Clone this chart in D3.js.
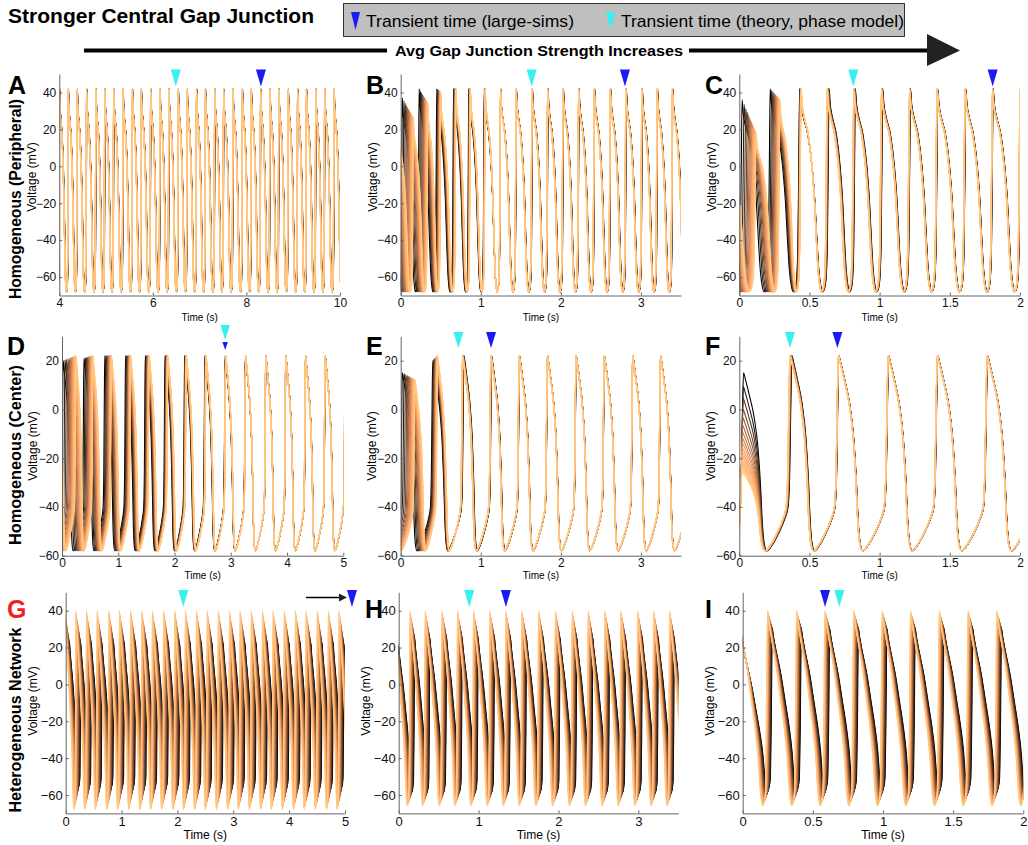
<!DOCTYPE html>
<html>
<head>
<meta charset="utf-8">
<script src="https://cdn.jsdelivr.net/npm/d3@7"></script>
<style>
  body { margin: 0; background: #fff; }
  svg { display: block; font-family: "Liberation Sans", Arial, Helvetica, sans-serif; }
</style>
</head>
<body>
<script>
// One cycle of each waveform, [phase from peak, mV]
const tplPeriph = [[0, 42], [0.04, 34], [0.12, 27], [0.28, 17], [0.42, 0], [0.52, -20], [0.58, -38], [0.65, -56],
  [0.72, -65], [0.78, -68], [0.85, -66], [0.9, -60], [0.94, -42], [0.97, 0], [1, 42]];
const tplCenter = [[0, 22], [0.04, 19], [0.12, 12], [0.22, 2], [0.3, -12], [0.35, -28], [0.39, -46], [0.43, -55],
  [0.48, -58], [0.58, -56], [0.72, -51], [0.85, -45], [0.92, -40], [0.955, -25], [0.98, 5], [1, 22]];
const tplHetero = [[0, 40], [0.04, 35], [0.15, 24], [0.3, 10], [0.45, -8], [0.58, -24], [0.68, -40], [0.74, -55],
  [0.79, -63], [0.84, -66], [0.89, -63], [0.93, -58], [0.965, -20], [1, 40]];

// cell rank: 0 = black, 1 = light orange
const ranksHomog = [0, 0.14, 0.26, 0.37, 0.46, 0.54, 0.61, 0.67, 0.72, 0.77, 0.81, 0.84, 0.87, 0.9, 0.92, 0.94,
  0.96, 0.98, 1];
const ranksHetero = [0, 0.07, 0.14, 0.21, 0.28, 0.36, 0.44, 0.52, 0.6, 0.68, 0.76, 0.84, 0.9, 0.95, 1];

// peak times of the light orange cell (s), offset of the black cell per cycle (s),
// peaks per cycle [black, orange] (mV), troughs [black, orange] (mV)
const spikesA = [3.80, 4.00, 4.19, 4.38, 4.58, 4.78, 4.97, 5.16, 5.36, 5.56, 5.75, 5.95, 6.15, 6.34, 6.54, 6.73, 6.93,
  7.12, 7.32, 7.51, 7.71, 7.91, 8.10, 8.30, 8.50, 8.69, 8.89, 9.09, 9.28, 9.48, 9.67, 9.87, 10.07];
const shiftA = [0.008];
const peaksA = [[42, 42]];
const troughsA = [-68, -68];

const spikesB = [-0.02, 0.16, 0.34, 0.50, 0.69, 0.87, 1.055, 1.245, 1.44, 1.638, 1.833, 2.025, 2.22, 2.415, 2.615,
  2.81, 3.01, 3.2, 3.39, 3.59];
const shiftB = [-0.15, -0.14, -0.11, -0.05, -0.03, -0.02, -0.012, 0.004, 0.006, 0.008];
const peaksB = [[30, 20], [37, 26], [42, 34], [42, 40], [42, 42]];
const troughsB = [-68, -68];

const spikesC = [-0.1, 0.12, 0.29, 0.44, 0.625, 0.815, 1.012, 1.212, 1.408, 1.608, 1.803, 2.0, 2.2];
const shiftC = [-0.1, -0.1, -0.07, -0.01, 0.015, 0.012, 0.01, 0.008, 0.006];
const peaksC = [[30, 22], [36, 18], [42, 36], [42, 42]];
const troughsC = [-68, -68];

const spikesD = [-0.1, 0.25, 0.55, 0.88, 1.22, 1.55, 1.88, 2.21, 2.56, 2.91, 3.265, 3.62, 3.975, 4.325, 4.675, 5.03];
const shiftD = [-0.25, -0.23, -0.16, -0.12, -0.09, -0.07, -0.05, -0.03, -0.02, -0.01, -0.006, 0.004];
const peaksD = [[20, 22], [20, 22], [21, 22], [22, 22]];
const troughsD = [-58, -58];

const spikesE = [-0.15, 0.18, 0.46, 0.77, 1.125, 1.478, 1.83, 2.188, 2.54, 2.895, 3.242, 3.6];
const shiftE = [-0.15, -0.16, -0.06, 0.02, 0.01, 0.006, 0.004];
const peaksE = [[15, 10], [15, 12], [20, 22], [22, 22]];
const troughsE = [-58, -58];

const spikesF = [-0.3, 0.02, 0.36, 0.705, 1.06, 1.41, 1.765, 2.12];
const shiftF = [-0.02, 0.01, 0.015, 0.004];
const peaksF = [[20, 10], [15, -25], [22, 22]];
const troughsF = [-58, -58];

const spikesG = [-0.02, 0.18, 0.37, 0.56, 0.77, 0.96, 1.16, 1.36, 1.55, 1.75, 1.95, 2.14, 2.34, 2.53, 2.73, 2.93,
  3.12, 3.32, 3.52, 3.71, 3.91, 4.11, 4.30, 4.50, 4.70, 4.89, 5.09];
const shiftG = [0.09];
const peaksG = [[22, 40]];
const troughsG = [-55, -68];

const spikesH = [-0.06, 0.14, 0.33, 0.54, 0.735, 0.935, 1.14, 1.34, 1.54, 1.75, 1.96, 2.17, 2.37, 2.58, 2.78, 2.99,
  3.19, 3.39, 3.6];
const shiftH = [0.06];
const peaksH = [[20, 34], [25, 40]];
const troughsH = [-58, -66];

const spikesI = [-0.03, 0.176, 0.383, 0.585, 0.79, 0.993, 1.195, 1.40, 1.605, 1.81, 2.015];
const shiftI = [0.035];
const peaksI = [[20, 38], [30, 40]];
const troughsI = [-58, -66];

// transient times, panels A..I
const theoryTimes = [6.49, 1.635, 0.812, 2.90, 0.72, 0.361, 2.106, 0.883, 0.689];
const simTimes = [8.31, 2.80, 1.805, 2.90, 1.128, 0.699, 5.125, 1.342, 0.587];

// ticks
const voltTicksWide = [-60, -40, -20, 0, 20, 40];
const voltTicksCenter = [-60, -40, -20, 0, 20];
const timeTicksA = [4, 6, 8, 10];
const timeTicks35 = [0, 1, 2, 3];
const timeTicks5 = [0, 1, 2, 3, 4, 5];
const timeTicks2 = [0, 0.5, 1, 1.5, 2];

const rowLabels = ['Homogeneous (Peripheral)', 'Homogeneous (Center)', 'Heterogeneous Network'];

const FONT = '"Liberation Sans", Arial, Helvetica, sans-serif';
const copper = d3.scaleLinear().domain([0, 0.8, 1]).range(['#000000', '#ffa066', '#ffc982']);

const rows = [
  { yr: [295.5, 74], yd: [-70, 50], yt: voltTicksWide, tick: 12, xPad: 3, timeY: 320.5, timeFont: 10, vY: 177, vOff: 28, tip: 86.5, th: 17, letterY: 94 },
  { yr: [555.7, 336.3], yd: [-60, 30], yt: voltTicksCenter, tick: 12, xPad: 3, timeY: 578.5, timeFont: 10, vY: 446, vOff: 29, tip: 348, th: 16, letterY: 355 },
  { yr: [813.4, 592.3], yd: [-70, 50], yt: voltTicksWide, tick: 13, xPad: 3, timeY: 838.5, timeFont: 12, vY: 701, vOff: 33, tip: 607, th: 17, letterY: 618 }
];

const panels = [
  { id: 'A', row: 0, xr: [59.3, 340], xd: [4, 10], xt: timeTicksA, tpl: tplPeriph, ranks: ranksHomog, spikes: spikesA, shift: shiftA, peaks: peaksA, troughs: troughsA, lx: 8 },
  { id: 'B', row: 0, xr: [400.7, 681], xd: [0, 3.5], xt: timeTicks35, tpl: tplPeriph, ranks: ranksHomog, spikes: spikesB, shift: shiftB, peaks: peaksB, troughs: troughsB, lx: 366 },
  { id: 'C', row: 0, xr: [739.3, 1020], xd: [0, 2], xt: timeTicks2, tpl: tplPeriph, ranks: ranksHomog, spikes: spikesC, shift: shiftC, peaks: peaksC, troughs: troughsC, lx: 705 },
  { id: 'D', row: 1, xr: [62, 343.3], xd: [0, 5], xt: timeTicks5, tpl: tplCenter, ranks: ranksHomog, spikes: spikesD, shift: shiftD, peaks: peaksD, troughs: troughsD, lx: 7 },
  { id: 'E', row: 1, xr: [400.7, 681], xd: [0, 3.5], xt: timeTicks35, tpl: tplCenter, ranks: ranksHomog, spikes: spikesE, shift: shiftE, peaks: peaksE, troughs: troughsE, lx: 366 },
  { id: 'F', row: 1, xr: [739.3, 1020], xd: [0, 2], xt: timeTicks2, tpl: tplCenter, ranks: ranksHomog, spikes: spikesF, shift: shiftF, peaks: peaksF, troughs: troughsF, lx: 705 },
  { id: 'G', row: 2, xr: [65.7, 345], xd: [0, 5], xt: timeTicks5, tpl: tplHetero, ranks: ranksHetero, spikes: spikesG, shift: shiftG, peaks: peaksG, troughs: troughsG, lx: 7, red: true },
  { id: 'H', row: 2, xr: [398.7, 678.3], xd: [0, 3.5], xt: timeTicks35, tpl: tplHetero, ranks: ranksHetero, spikes: spikesH, shift: shiftH, peaks: peaksH, troughs: troughsH, lx: 365 },
  { id: 'I', row: 2, xr: [742.7, 1023.3], xd: [0, 2], xt: timeTicks2, tpl: tplHetero, ranks: ranksHetero, spikes: spikesI, shift: shiftI, peaks: peaksI, troughs: troughsI, lx: 705 }
];

// one cell's trace: the template stretched between its own peak times
function tracePoints(p, rank) {
  const tMin = d3.min(p.tpl, d => d[1]);
  const tPeak = p.tpl[0][1];
  const minIdx = p.tpl.findIndex(d => d[1] === tMin);
  const at = (arr, k) => arr[Math.min(k, arr.length - 1)];
  const times = p.spikes.map((s, k) => s + (1 - rank) * at(p.shift, k));
  const peakOf = k => { const pk = at(p.peaks, k); return pk[0] + rank * (pk[1] - pk[0]); };
  const trough = p.troughs[0] + rank * (p.troughs[1] - p.troughs[0]);
  const pts = [];
  for (let k = 0; k < times.length - 1; k++) {
    const t0 = times[k], t1 = times[k + 1];
    p.tpl.forEach(([ph, v], j) => {
      if (k > 0 && j === 0) return;
      const pk = j < minIdx ? peakOf(k) : peakOf(k + 1);
      pts.push([t0 + ph * (t1 - t0), trough + (v - tMin) / (tPeak - tMin) * (pk - trough)]);
    });
  }
  return pts;
}

const svg = d3.select('body').append('svg')
  .attr('width', 1028)
  .attr('height', 845);

// Titre et légende
svg.append('text')
  .attr('x', 8).attr('y', 23)
  .attr('font-size', 21).attr('font-weight', 'bold')
  .attr('textLength', 306).attr('lengthAdjust', 'spacingAndGlyphs')
  .text('Stronger Central Gap Junction');

svg.append('rect')
  .attr('x', 343.5).attr('y', 3.5).attr('width', 561).attr('height', 33)
  .attr('fill', '#bfbfbf').attr('stroke', '#333');

const legend = [
  { x: 351, color: '#1a1af5', label: 'Transient time (large-sims)', w: 208 },
  { x: 606, color: '#38f0f0', label: 'Transient time (theory, phase model)', w: 283 }
];
legend.forEach(d => {
  svg.append('path')
    .attr('d', `M${d.x},12 L${d.x + 9},12 L${d.x + 4.5},30 Z`)
    .attr('fill', d.color);
  svg.append('text')
    .attr('x', d.x + 15).attr('y', 27)
    .attr('font-size', 17)
    .attr('textLength', d.w).attr('lengthAdjust', 'spacingAndGlyphs')
    .text(d.label);
});

// Flèche
svg.append('line')
  .attr('x1', 84).attr('x2', 932).attr('y1', 50.5).attr('y2', 50.5)
  .attr('stroke', '#000').attr('stroke-width', 4);
svg.append('rect')
  .attr('x', 387).attr('y', 42).attr('width', 302).attr('height', 17).attr('fill', '#fff');
svg.append('text')
  .attr('x', 539).attr('y', 55.5)
  .attr('text-anchor', 'middle')
  .attr('font-size', 15).attr('font-weight', 'bold')
  .attr('textLength', 288).attr('lengthAdjust', 'spacingAndGlyphs')
  .text('Avg Gap Junction Strength Increases');
svg.append('path')
  .attr('d', 'M927,34 L960,50.5 L927,66 Z')
  .attr('fill', '#222');

// Étiquettes de ligne
const rowLabelPos = [{ y: 199, w: 200 }, { y: 455, w: 180 }, { y: 720, w: 185 }];
rowLabels.forEach((t, i) => {
  svg.append('text')
    .attr('transform', `translate(21,${rowLabelPos[i].y}) rotate(-90)`)
    .attr('text-anchor', 'middle')
    .attr('font-size', 17).attr('font-weight', 'bold')
    .attr('textLength', rowLabelPos[i].w).attr('lengthAdjust', 'spacingAndGlyphs')
    .text(t);
});

const line = d3.line().curve(d3.curveMonotoneX);

panels.forEach((p, i) => {
  const r = rows[p.row];
  const x = d3.scaleLinear().domain(p.xd).range(p.xr);
  const y = d3.scaleLinear().domain(r.yd).range(r.yr);
  line.x(d => x(d[0])).y(d => y(d[1]));

  const g = svg.append('g');
  const clipId = 'clip' + p.id;
  g.append('clipPath').attr('id', clipId)
    .append('rect')
    .attr('x', p.xr[0]).attr('y', r.yr[1])
    .attr('width', p.xr[1] - p.xr[0]).attr('height', r.yr[0] - r.yr[1]);

  // traces, dark cells first
  g.append('g')
    .attr('clip-path', `url(#${clipId})`)
    .selectAll('path')
    .data(p.ranks)
    .enter()
    .append('path')
    .attr('d', rk => line(tracePoints(p, rk)))
    .attr('fill', 'none')
    .attr('stroke', rk => copper(rk))
    .attr('stroke-width', 1.1);

  // axes
  g.append('g')
    .attr('transform', `translate(0,${r.yr[0]})`)
    .call(d3.axisBottom(x).tickValues(p.xt).tickFormat(d3.format('~g'))
      .tickSizeInner(-3).tickSizeOuter(0).tickPadding(r.xPad))
    .attr('font-family', FONT).attr('font-size', r.tick);
  g.append('g')
    .attr('transform', `translate(${p.xr[0]},0)`)
    .call(d3.axisLeft(y).tickValues(r.yt)
      .tickSizeInner(-3).tickSizeOuter(0).tickPadding(3))
    .attr('font-family', FONT).attr('font-size', r.tick);
  g.selectAll('.domain, .tick line').attr('stroke', '#666');
  g.selectAll('.tick text').attr('fill', '#111');

  g.append('text')
    .attr('x', (p.xr[0] + p.xr[1]) / 2).attr('y', r.timeY)
    .attr('text-anchor', 'middle').attr('font-size', r.timeFont)
    .text('Time (s)');
  g.append('text')
    .attr('transform', `translate(${p.xr[0] - r.vOff},${r.vY}) rotate(-90)`)
    .attr('text-anchor', 'middle').attr('dy', '0.35em')
    .attr('font-size', 12)
    .text('Voltage (mV)');

  g.append('text')
    .attr('x', p.lx).attr('y', r.letterY)
    .attr('font-size', 25).attr('font-weight', 'bold')
    .attr('fill', p.red ? '#f21d1d' : '#000')
    .text(p.id);

  // marqueurs
  const tri = (cx, tip, w, h) => `M${cx - w / 2},${tip - h} L${cx + w / 2},${tip - h} L${cx},${tip} Z`;
  const tc = x(theoryTimes[i]), ts = x(simTimes[i]);
  if (Math.abs(tc - ts) < 3) {
    g.append('path').attr('d', tri(tc, r.tip - 8, 9.5, 15)).attr('fill', '#38f0f0');
    g.append('path').attr('d', tri(ts, r.tip + 2, 5.5, 8)).attr('fill', '#1a1af5');
  } else {
    g.append('path').attr('d', tri(tc, r.tip, 10, r.th)).attr('fill', '#38f0f0');
    g.append('path').attr('d', tri(ts, r.tip, 10, r.th)).attr('fill', '#1a1af5');
  }
  if (simTimes[i] > p.xd[1]) {
    const ay = r.tip - 9.5;
    g.append('line')
      .attr('x1', ts - 46).attr('x2', ts - 12).attr('y1', ay).attr('y2', ay)
      .attr('stroke', '#000').attr('stroke-width', 1.3);
    g.append('path')
      .attr('d', `M${ts - 13},${ay - 4} L${ts - 5},${ay} L${ts - 13},${ay + 4} Z`)
      .attr('fill', '#222');
  }
});
</script>
</body>
</html>
